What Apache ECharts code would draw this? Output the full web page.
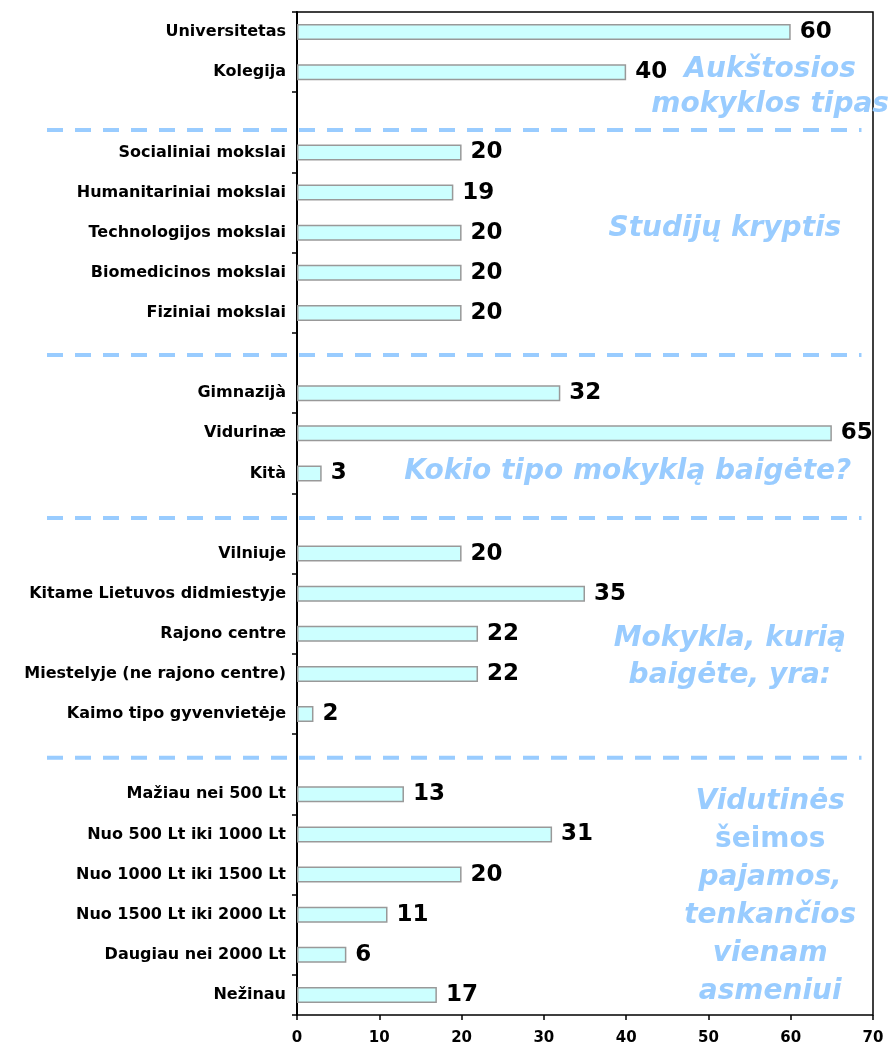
<!DOCTYPE html>
<html>
<head>
<meta charset="utf-8">
<script src="https://cdn.jsdelivr.net/npm/echarts@6/dist/echarts.min.js"></script>
<style>
  html, body { margin: 0; padding: 0; background: #fff; }
  #main { width: 888px; height: 1050px; }
</style>
</head>
<body>
<div id="main"></div>
<script>
  // kategorijos (tuščios eilutės = tarpai tarp grupių)
  var categories = [
    'Universitetas', 'Kolegija', '',
    'Socialiniai mokslai', 'Humanitariniai mokslai', 'Technologijos mokslai', 'Biomedicinos mokslai', 'Fiziniai mokslai', '',
    'Gimnazijà', 'Vidurinæ', 'Kità', '',
    'Vilniuje', 'Kitame Lietuvos didmiestyje', 'Rajono centre', 'Miestelyje (ne rajono centre)', 'Kaimo tipo gyvenvietėje', '',
    'Mažiau nei 500 Lt', 'Nuo 500 Lt iki 1000 Lt', 'Nuo 1000 Lt iki 1500 Lt', 'Nuo 1500 Lt iki 2000 Lt', 'Daugiau nei 2000 Lt', 'Nežinau'
  ]
  var values = [
    60, 40, null,
    20, 19, 20, 20, 20, null,
    32, 65, 3, null,
    20, 35, 22, 22, 2, null,
    13, 31, 20, 11, 6, 17
  ]
  var xTicks = [0, 10, 20, 30, 40, 50, 60, 70]

  // grupių pavadinimai: [tekstas, x reikšmė, kategorijos indeksas, eilutės aukštis]
  var groupTitles = [
    ['{i|Aukštosios}\n{i|mokyklos tipas}', 57.5, 1.37, 35],
    ['{i|Studijų kryptis}', 52, 4.9, 37],
    ['{i|Kokio tipo mokyklą baigėte?}', 40.2, 10.95, 37],
    ['{i|Mokykla, kurią}\n{i|baigėte, yra:}', 52.6, 15.58, 37],
    ['{i|Vidutinės}\n{n|šeimos}\n{i|pajamos,}\n{i|tenkančios}\n{i|vienam}\n{i|asmeniui}', 57.5, 21.56, 38]
  ]
  // skiriamųjų linijų vieta (kategorijų vienetais)
  var separators = [2.44, 8.05, 12.11, 18.09]

  var myChart = echarts.init(document.getElementById('main'))
  var option = {
    animation: false,
    textStyle: { fontFamily: 'DejaVu Sans' },
    grid: {
      left: 297, right: 15, top: 12, bottom: 35,
      show: true,
      borderColor: '#000',
      borderWidth: 1.5
    },
    xAxis: {
      type: 'value',
      min: xTicks[0],
      max: xTicks[xTicks.length - 1],
      interval: 10,
      splitLine: { show: false },
      axisLine: { lineStyle: { color: '#000', width: 2 } },
      axisTick: { show: true, length: 5, lineStyle: { color: '#000', width: 1.5 } },
      axisLabel: { color: '#000', fontWeight: 'bold', fontSize: 15, margin: 16 }
    },
    yAxis: {
      type: 'category',
      inverse: true,
      data: categories,
      axisLine: { lineStyle: { color: '#000', width: 2 } },
      axisTick: { show: true, interval: 1, length: 5, lineStyle: { color: '#000', width: 1.5 } },
      axisLabel: { color: '#000', fontWeight: 'bold', fontSize: 16, margin: 11, interval: 0 }
    },
    series: [{
      type: 'bar',
      data: values,
      barWidth: 16,
      itemStyle: {
        color: '#ccffff',
        borderColor: '#999999',
        borderWidth: 1.5
      },
      label: {
        show: true,
        position: 'right',
        distance: 9,
        color: '#000',
        fontWeight: 'bold',
        fontSize: 23,
        formatter: function (p) { return p.value == null ? '' : p.value }
      }
    }]
  }
  myChart.setOption(option)

  // pikselio y pagal (trupmeninį) kategorijos indeksą
  function catY(pos) {
    var i = Math.floor(pos)
    var y0 = myChart.convertToPixel({ yAxisIndex: 0 }, i)
    var y1 = myChart.convertToPixel({ yAxisIndex: 0 }, i + 1)
    return y0 + (y1 - y0) * (pos - i)
  }

  var graphics = []
  var lineRight = myChart.convertToPixel({ xAxisIndex: 0 }, 68.6)
  separators.forEach(function (s) {
    var y = catY(s)
    graphics.push({
      type: 'line',
      z: 10,
      shape: { x1: 47, y1: y, x2: lineRight, y2: y },
      style: { stroke: '#99ccff', lineWidth: 4, lineDash: [16, 12] }
    })
  })
  groupTitles.forEach(function (g) {
    graphics.push({
      type: 'text',
      z: 11,
      x: myChart.convertToPixel({ xAxisIndex: 0 }, g[1]),
      y: catY(g[2]),
      style: {
        text: g[0],
        align: 'center',
        verticalAlign: 'middle',
        rich: {
          i: { fontFamily: 'DejaVu Sans', fontWeight: 'bold', fontStyle: 'italic', fontSize: 28, lineHeight: g[3], fill: '#99ccff', align: 'center' },
          n: { fontFamily: 'DejaVu Sans', fontWeight: 'bold', fontSize: 28, lineHeight: g[3], fill: '#99ccff', align: 'center' }
        }
      }
    })
  })
  myChart.setOption({ graphic: graphics })
</script>
</body>
</html>
